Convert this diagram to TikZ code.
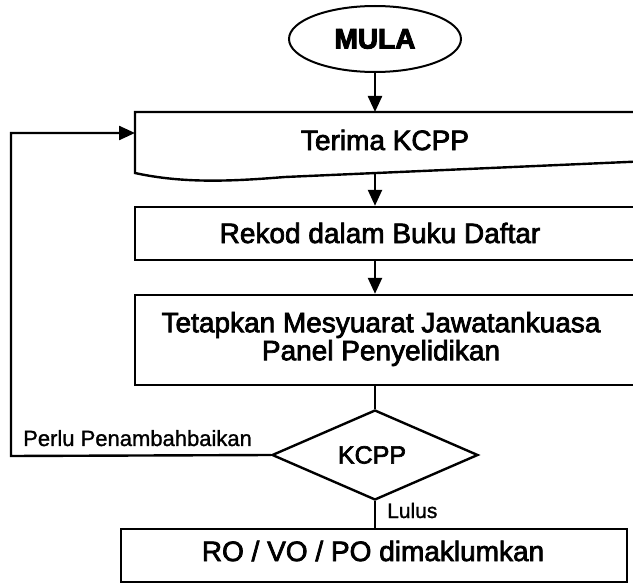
\documentclass[tikz,border=0pt]{standalone}
\usepackage{fontspec}
\setmainfont{Liberation Sans}
\newfontfamily\heavy{Liberation Sans}[FakeBold=2.6]
\newfontfamily\heavyb{Liberation Sans}[FakeBold=3.5]
\usetikzlibrary{shapes.geometric,arrows.meta}
\tikzset{
  line/.style={draw=black,line width=2.4pt,line join=miter},
  arr/.style={line,-{Triangle[length=16pt,width=14pt]}},
  boxnode/.style={line,rectangle,inner sep=0pt},
  txt/.style={inner sep=0pt,align=center,font=\fontsize{28}{28}\selectfont\heavy},
  smalltxt/.style={inner sep=0pt,font=\fontsize{22}{22}\selectfont\heavy},
}
\begin{document}
\begin{tikzpicture}[x=1pt,y=-1pt]
\clip (0,0) rectangle (633,583);
\fill[white] (0,0) rectangle (633,583);
% start
\node[line,ellipse,line width=2pt,minimum width=172pt,minimum height=66pt,inner sep=0pt,font=\fontsize{28}{28}\selectfont\heavyb\bfseries] (mula) at (375,39) {MULA};
% Terima KCPP (document shape)
\coordinate (tNW) at (135,112);
\coordinate (tin) at (135,133);
\coordinate (tbot) at (375,173);
\draw[line] (645,112) -- (tNW) -- (135,173) .. controls (185,184) and (235,181) .. (285,177) -- (650,161);
\node[txt] (terima) at (385,140) {Terima KCPP};
% Rekod
\node[boxnode,minimum width=510pt,minimum height=53pt] (rekod) at (390,233.5) {};
\node[txt] (rekodt) at (380,233) {Rekod dalam Buku Daftar};
% Tetapkan
\node[boxnode,minimum width=510pt,minimum height=90pt] (tetap) at (390,340) {};
\node[txt] (tetapt) at (381,339) {Tetapkan Mesyuarat Jawatankuasa\\Panel Penyelidikan};
% decision
\node[line,diamond,minimum width=206pt,minimum height=90pt,inner sep=0pt] (kcpp) at (375,455) {};
\node[inner sep=0pt,font=\fontsize{25}{25}\selectfont\heavy] (kcppt) at (372,455) {KCPP};
% result
\node[boxnode,minimum width=506pt,minimum height=53pt] (ro) at (374,555.5) {};
\node[txt] (rot) at (373,551) {RO / VO / PO dimaklumkan};
% connectors
\coordinate (lp) at (11,456);
\draw[arr] (mula.south) -- (mula.south |- tNW);
\draw[arr] (tbot) -- (tbot |- rekod.north);
\draw[arr] (rekod.south -| mula) -- (tetap.north -| mula);
\draw[line] (tetap.south -| kcpp) -- (kcpp.north);
\draw[line] (kcpp.south) -- (ro.north -| kcpp.south);
\draw[arr] (kcpp.west) -- (lp) |- (tin);
% labels
\node[inner sep=0pt,anchor=base west,font=\fontsize{22}{22}\selectfont\addfontfeature{FakeBold=1.2}] (perlu) at (23,446) {Perlu Penambahbaikan};
\node[inner sep=0pt,anchor=base west,font=\fontsize{21}{21}\selectfont\addfontfeature{FakeBold=1.2}] (lulus) at (387,518) {Lulus};
\end{tikzpicture}
\end{document}
